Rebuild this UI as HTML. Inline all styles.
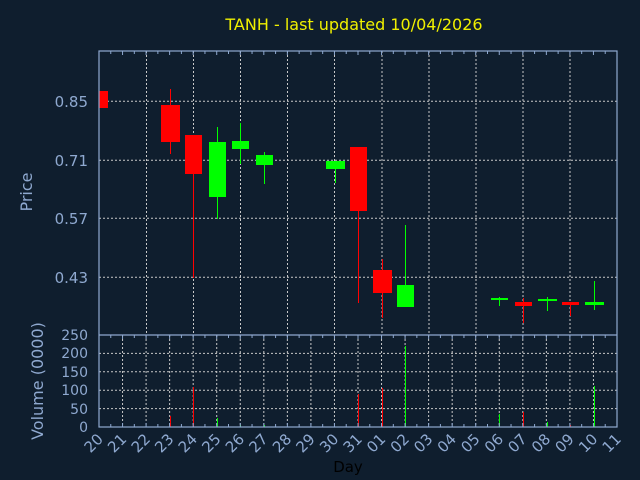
<!DOCTYPE html>
<html><head><meta charset="utf-8"><style>
html,body{margin:0;padding:0;background:#0f1e2e;}
svg{display:block;font-family:"DejaVu Sans","Liberation Sans",sans-serif;}
</style></head><body>
<svg width="640" height="480" xmlns="http://www.w3.org/2000/svg">
<rect width="640" height="480" fill="#0f1e2e"/>
<text x="354" y="30" fill="#f0f000" font-size="16" text-anchor="middle">TANH - last updated 10/04/2026</text>
<g stroke="#c8c8c8" stroke-width="1" stroke-dasharray="2,2">
<line x1="99" y1="101.3" x2="617" y2="101.3"/>
<line x1="99" y1="160.3" x2="617" y2="160.3"/>
<line x1="99" y1="218.3" x2="617" y2="218.3"/>
<line x1="99" y1="277.3" x2="617" y2="277.3"/>
<line x1="146.5" y1="51" x2="146.5" y2="335"/><line x1="193.5" y1="51" x2="193.5" y2="335"/>
<line x1="240.5" y1="51" x2="240.5" y2="335"/><line x1="287.5" y1="51" x2="287.5" y2="335"/>
<line x1="334.5" y1="51" x2="334.5" y2="335"/><line x1="382" y1="51" x2="382" y2="335"/>
<line x1="429" y1="51" x2="429" y2="335"/><line x1="476" y1="51" x2="476" y2="335"/>
<line x1="523" y1="51" x2="523" y2="335"/><line x1="570" y1="51" x2="570" y2="335"/>
<line x1="99" y1="353.4" x2="617" y2="353.4"/><line x1="99" y1="371.8" x2="617" y2="371.8"/>
<line x1="99" y1="390.2" x2="617" y2="390.2"/><line x1="99" y1="408.6" x2="617" y2="408.6"/>
</g>
<g stroke="#c8c8c8" stroke-width="1" stroke-dasharray="2,2" id="vg"></g>
<g fill="#ff0000">
<rect x="99" y="91" width="9" height="17"/>
<rect x="161" y="105" width="19" height="37"/><rect x="170" y="89" width="1" height="65"/>
<rect x="185" y="135" width="17" height="39"/><rect x="193" y="174" width="1" height="104"/>
<rect x="350" y="147" width="17" height="64"/><rect x="358" y="211" width="1" height="92"/>
<rect x="373" y="270" width="19" height="23"/><rect x="382" y="259" width="1" height="59"/>
<rect x="515" y="302" width="17" height="4"/><rect x="523" y="298" width="1" height="25"/>
<rect x="562" y="302" width="17" height="3"/><rect x="570" y="302" width="1" height="14"/>
<rect x="170" y="416" width="1" height="11"/><rect x="193" y="387" width="1" height="40"/>
<rect x="358" y="394" width="1" height="33"/><rect x="382" y="388" width="1" height="39"/>
<rect x="523" y="412" width="1" height="15"/><rect x="570" y="425" width="1" height="2"/>
</g>
<g fill="#00ff00">
<rect x="209" y="142" width="17" height="55"/><rect x="217" y="127" width="1" height="92"/>
<rect x="232" y="141" width="17" height="8"/><rect x="240" y="123" width="1" height="41"/>
<rect x="256" y="155" width="17" height="10"/><rect x="264" y="152" width="1" height="32"/>
<rect x="326" y="161" width="19" height="8"/><rect x="335" y="161" width="1" height="22"/>
<rect x="397" y="285" width="17" height="22"/><rect x="405" y="225" width="1" height="60"/>
<rect x="491" y="298" width="17" height="2"/><rect x="499" y="297" width="1" height="9"/>
<rect x="538" y="299" width="19" height="2"/><rect x="547" y="297" width="1" height="14"/>
<rect x="585" y="302" width="19" height="3"/><rect x="594" y="281" width="1" height="29"/>
<rect x="217" y="418" width="1" height="9"/><rect x="240" y="425" width="1" height="2"/>
<rect x="264" y="425" width="1" height="2"/><rect x="405" y="346" width="1" height="81"/>
<rect x="499" y="414" width="1" height="13"/><rect x="547" y="422" width="1" height="5"/>
<rect x="594" y="386" width="1" height="41"/>
</g>
<g fill="none" stroke="#8fa9d0" stroke-width="1.2">
<rect x="99" y="51" width="518" height="376"/>
<line x1="99" y1="335" x2="617" y2="335"/>
</g>
<g id="ticks" stroke="#8fa9d0" stroke-width="1"></g>
<g fill="#8fa9d0" font-size="15" text-anchor="end">
<text x="88" y="107">0.85</text><text x="88" y="166">0.71</text>
<text x="88" y="224">0.57</text><text x="88" y="283">0.43</text>
</g>
<g fill="#8fa9d0" font-size="14" text-anchor="end">
<text x="88" y="340">250</text><text x="88" y="358">200</text><text x="88" y="377">150</text>
<text x="88" y="395">100</text><text x="88" y="414">50</text><text x="88" y="432">0</text>
</g>
<text transform="translate(32,192) rotate(-90)" fill="#8fa9d0" font-size="16" text-anchor="middle">Price</text>
<text transform="translate(43,381) rotate(-90)" fill="#8fa9d0" font-size="16" text-anchor="middle">Volume (0000)</text>
<text x="348" y="472" fill="#000" font-size="15" text-anchor="middle">Day</text>
<g id="xl" fill="#8fa9d0" font-size="15" text-anchor="end"></g>
</svg>
<script>
var ns="http://www.w3.org/2000/svg";
var labs=["20","21","22","23","24","25","26","27","28","29","30","31","01","02","03","04","05","06","07","08","09","10","11"];
var vg=document.getElementById("vg"),tk=document.getElementById("ticks"),xl=document.getElementById("xl");
function ln(g,a,b,c,d){var l=document.createElementNS(ns,"line");l.setAttribute("x1",a);l.setAttribute("y1",b);l.setAttribute("x2",c);l.setAttribute("y2",d);g.appendChild(l);}
for(var i=0;i<23;i++){var x=99+i*23.545;
 if(i>0&&i<22)ln(vg,x,335,x,427);
 ln(tk,x,51,x,55);ln(tk,x,335,x,339);ln(tk,x,423,x,427);
 if(i<22){var h=x+11.77;ln(tk,h,51,h,54);ln(tk,h,335,h,338);ln(tk,h,424,h,427);}
 var t=document.createElementNS(ns,"text");t.setAttribute("transform","translate("+(x+5)+",440) rotate(-45)");t.textContent=labs[i];xl.appendChild(t);}
</script>
</body></html>
